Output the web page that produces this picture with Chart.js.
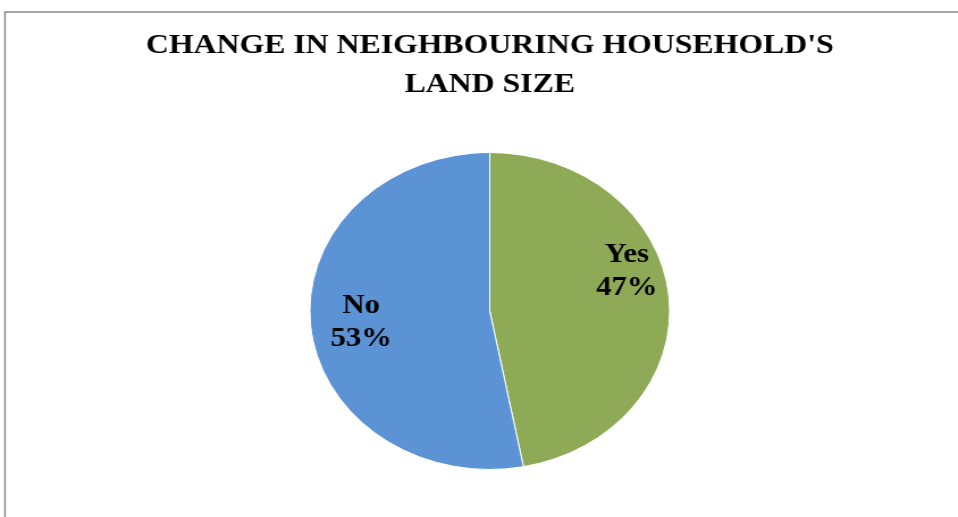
<!DOCTYPE html>
<html>
<head>
<meta charset="utf-8">
<script src="https://cdn.jsdelivr.net/npm/chart.js@4"></script>
<style>
  html, body { margin: 0; padding: 0; background: #fff; overflow: hidden; }
  #wrap { width: 844px; height: 517px; transform: scaleX(1.135); transform-origin: 0 0; }
</style>
</head>
<body>
<div id="wrap"><canvas id="pie" width="844" height="517"></canvas></div>
<script>
const titleLines = ["CHANGE IN NEIGHBOURING HOUSEHOLD'S", 'LAND SIZE'];
const labels = ['Yes', 'No'];
const shares = [47, 53];
const colors = ['#8EAA56', '#5B93D5'];

// frame lines at left and top, like the original picture
const framePlugin = {
  id: 'frame',
  beforeDraw(chart) {
    const ctx = chart.ctx;
    ctx.save();
    ctx.strokeStyle = '#8a8a8a';
    ctx.lineWidth = 1.5;
    ctx.beginPath();
    ctx.moveTo(4.4, chart.height);
    ctx.lineTo(4.4, 12);
    ctx.lineTo(chart.width, 12);
    ctx.stroke();
    ctx.restore();
  }
};

// "Yes / 47%" style labels inside slices
const labelOffsets = [[4, -28], [3.5, 0]];
const sliceLabels = {
  id: 'sliceLabels',
  afterDatasetsDraw(chart) {
    const ctx = chart.ctx;
    const meta = chart.getDatasetMeta(0);
    ctx.save();
    ctx.fillStyle = '#000';
    ctx.font = 'bold 27px "Liberation Serif", "Times New Roman", serif';
    ctx.textAlign = 'center';
    ctx.textBaseline = 'middle';
    meta.data.forEach((arc, i) => {
      const p = arc.getProps(['x', 'y', 'startAngle', 'endAngle', 'outerRadius']);
      const mid = (p.startAngle + p.endAngle) / 2;
      const r = p.outerRadius * 0.74;
      const x = p.x + Math.cos(mid) * r + labelOffsets[i][0];
      const y = p.y + Math.sin(mid) * r + labelOffsets[i][1];
      ctx.fillText(labels[i], x, y - 16.5);
      ctx.fillText(shares[i] + '%', x, y + 16.5);
    });
    ctx.restore();
  }
};

new Chart(document.getElementById('pie'), {
  type: 'pie',
  data: {
    labels: labels,
    datasets: [{
      data: shares,
      backgroundColor: colors,
      borderColor: '#ffffff',
      borderWidth: 1
    }]
  },
  options: {
    responsive: false,
    animation: false,
    layout: { padding: { left: 19, right: 0, top: 0, bottom: 47 } },
    plugins: {
      legend: { display: false },
      tooltip: { enabled: false },
      title: {
        display: true,
        text: titleLines,
        color: '#000',
        font: { family: '"Liberation Serif", "Times New Roman", serif', size: 28, weight: 'bold', lineHeight: 1.375 },
        padding: { top: 26.75, bottom: 48.25 }
      }
    }
  },
  plugins: [framePlugin, sliceLabels]
});
</script>
</body>
</html>
